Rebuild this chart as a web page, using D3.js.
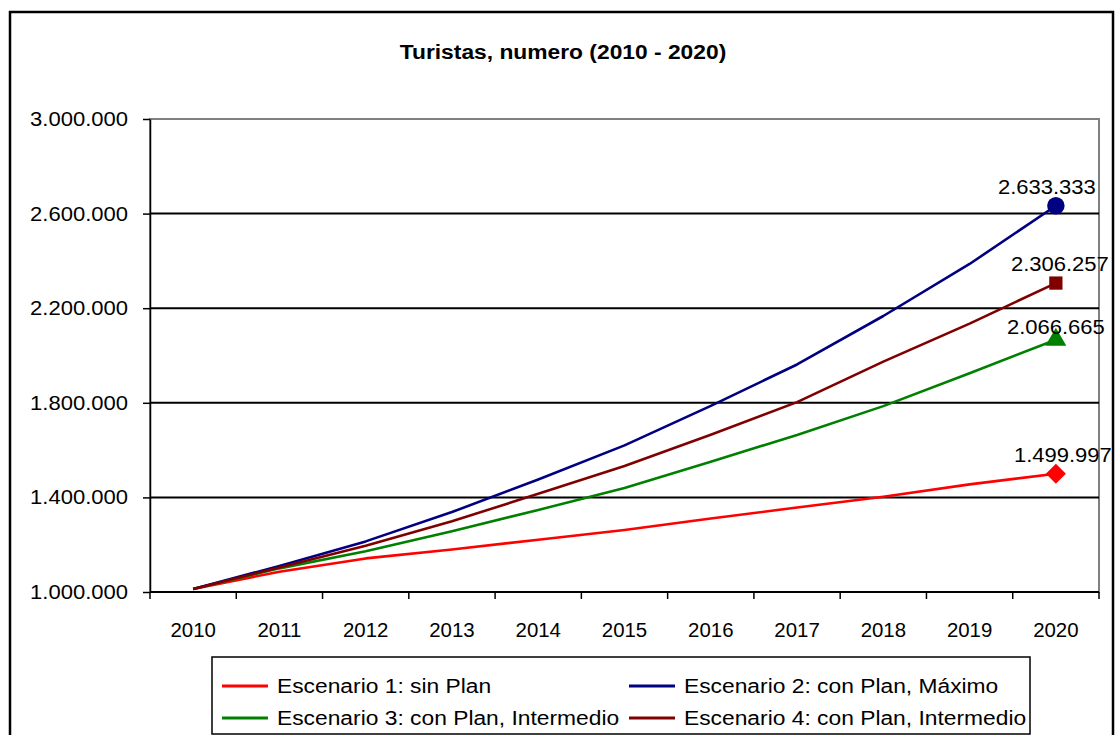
<!DOCTYPE html>
<html>
<head>
<meta charset="utf-8">
<script src="https://cdn.jsdelivr.net/npm/d3@7"></script>
<style>
  body { margin: 0; background: #fff; }
  svg { display: block; }
  text { font-family: "Liberation Sans", Arial, Helvetica, sans-serif; fill: #000; }
</style>
</head>
<body>
<svg id="chart" width="1116" height="735"></svg>
<script>
// ---- data ----
const years = ["2010", "2011", "2012", "2013", "2014", "2015", "2016", "2017", "2018", "2019", "2020"];
const escenario1 = [1013000, 1086000, 1142000, 1180000, 1221000, 1262000, 1311000, 1357000, 1403000, 1455000, 1499997];
const escenario2 = [1013000, 1110000, 1214000, 1338000, 1476000, 1620000, 1787000, 1962000, 2167000, 2387000, 2633333];
const escenario3 = [1013000, 1100000, 1172000, 1257000, 1347000, 1440000, 1551000, 1664000, 1786000, 1925000, 2066665];
const escenario4 = [1013000, 1104000, 1196000, 1299000, 1415000, 1533000, 1665000, 1803000, 1974000, 2135000, 2306257];
const seriesNames = [
  "Escenario 1: sin Plan",
  "Escenario 2: con Plan, Máximo",
  "Escenario 3: con Plan, Intermedio",
  "Escenario 4: con Plan, Intermedio"
];
const yTickValues = [1000000, 1400000, 1800000, 2200000, 2600000, 3000000];
const chartTitle = "Turistas, numero (2010 - 2020)";

// ---- appearance ----
const seriesColors = ["#ff0000", "#000080", "#008000", "#800000"];
const seriesMarkers = ["diamond", "circle", "triangle", "square"];
const labelShiftX = [7, -9, 0, 4];          // horizontal nudge of each end label
const labelShiftY = [-12, -12, -6, -12];    // vertical gap between end marker and its value label
const legendOrder = [0, 1, 2, 3];           // row-major, two columns

const series = seriesNames.map((name, i) => ({
  name,
  values: [escenario1, escenario2, escenario3, escenario4][i],
  color: seriesColors[i],
  marker: seriesMarkers[i],
  labelDx: labelShiftX[i],
  labelDy: labelShiftY[i]
}));

const svg = d3.select("#chart");
const plot = { left: 150, right: 1099, top: 119, bottom: 592 };

// widen the Arial glyphs slightly, as in the original export
function widen(sel, k) {
  sel.each(function () {
    const w = this.getComputedTextLength();
    this.setAttribute("textLength", (w * k).toFixed(1));
    this.setAttribute("lengthAdjust", "spacingAndGlyphs");
  });
}

// thousands separator "."
const locale = d3.formatLocale({ decimal: ",", thousands: ".", grouping: [3], currency: ["", ""] });
const fmt = locale.format(",d");

const x = d3.scaleBand().domain(years).range([plot.left, plot.right]).paddingInner(0).paddingOuter(0);
const cx = d => x(d) + x.bandwidth() / 2;
const y = d3.scaleLinear().domain([1000000, 3000000]).range([plot.bottom, plot.top]);

// outer chart frame
svg.append("rect")
  .attr("x", 10).attr("y", 12).attr("width", 1103).attr("height", 740)
  .attr("fill", "#fff").attr("stroke", "#000").attr("stroke-width", 2.5);

// title
svg.append("text")
  .attr("x", 563).attr("y", 59)
  .attr("text-anchor", "middle")
  .attr("font-size", 20).attr("font-weight", "bold")
  .text(chartTitle)
  .call(widen, 1.14);

// plot area border (top and right are grey)
svg.append("rect")
  .attr("x", plot.left).attr("y", plot.top)
  .attr("width", plot.right - plot.left).attr("height", plot.bottom - plot.top)
  .attr("fill", "none").attr("stroke", "#808080").attr("stroke-width", 2);

// horizontal gridlines
svg.append("g").selectAll("line")
  .data(yTickValues.filter(v => v > 1000000 && v < 3000000))
  .join("line")
  .attr("x1", plot.left).attr("x2", plot.right)
  .attr("y1", d => y(d)).attr("y2", d => y(d))
  .attr("stroke", "#000").attr("stroke-width", 2);

// y axis
const yAxis = svg.append("g")
  .attr("transform", `translate(${plot.left},0)`)
  .call(d3.axisLeft(y).tickValues(yTickValues).tickFormat(fmt).tickSize(7).tickPadding(15).tickSizeOuter(0));
yAxis.select(".domain").attr("stroke", "#000").attr("stroke-width", 1.5);
yAxis.selectAll(".tick line").attr("stroke", "#000").attr("stroke-width", 1.5);
yAxis.selectAll(".tick text")
  .attr("font-size", 20).attr("font-family", null).attr("fill", "#000")
  .call(widen, 1.1);

// x axis: labels centred on categories, tick marks on category boundaries
const xAxis = svg.append("g")
  .attr("transform", `translate(0,${plot.bottom})`)
  .call(d3.axisBottom(x).tickSize(0).tickPadding(31).tickSizeOuter(0));
xAxis.select(".domain").remove();
xAxis.selectAll(".tick text")
  .attr("font-size", 20).attr("font-family", null).attr("fill", "#000")
  .call(widen, 1.02);

const boundaries = years.map(d => x(d)).concat([plot.right]);
svg.append("g").selectAll("line")
  .data(boundaries)
  .join("line")
  .attr("x1", d => d).attr("x2", d => d)
  .attr("y1", plot.bottom).attr("y2", plot.bottom + 7)
  .attr("stroke", "#000").attr("stroke-width", 1.5);
svg.append("line")
  .attr("x1", plot.left).attr("x2", plot.right)
  .attr("y1", plot.bottom).attr("y2", plot.bottom)
  .attr("stroke", "#000").attr("stroke-width", 2);

// series lines (drawn red first, maroon on top)
const line = d3.line().x((d, i) => cx(years[i])).y(d => y(d));
const drawOrder = [0, 2, 1, 3];
svg.append("g").selectAll("path")
  .data(drawOrder.map(i => series[i]))
  .join("path")
  .attr("d", s => line(s.values))
  .attr("fill", "none")
  .attr("stroke", s => s.color)
  .attr("stroke-width", 2.6)
  .attr("stroke-linejoin", "round");

// end markers and value labels for the last year
const symbolFor = {
  circle: d3.symbol(d3.symbolCircle, 240),
  square: d3.symbol(d3.symbolSquare, 176),
  triangle: d3.symbol(d3.symbolTriangle, 190),
  diamond: d3.symbol(d3.symbolSquare, 200)
};
const last = years.length - 1;
const ends = svg.append("g").selectAll("g")
  .data(series)
  .join("g")
  .attr("transform", s => `translate(${cx(years[last])},${y(s.values[last])})`);
ends.append("path")
  .attr("d", s => symbolFor[s.marker]())
  .attr("transform", s => s.marker === "diamond" ? "rotate(45)" : null)
  .attr("fill", s => s.color);
ends.append("text")
  .attr("x", s => s.labelDx)
  .attr("y", s => s.labelDy)
  .attr("text-anchor", "middle")
  .attr("font-size", 20)
  .text(s => fmt(s.values[last]))
  .call(widen, 1.1);

// legend
const legend = svg.append("g");
legend.append("rect")
  .attr("x", 212).attr("y", 657).attr("width", 818).attr("height", 77)
  .attr("fill", "#fff").attr("stroke", "#000").attr("stroke-width", 1.5);
const colX = [222, 629];
const rowY = [686, 718];
const items = legend.selectAll("g.item")
  .data(legendOrder.map(i => series[i]))
  .join("g")
  .attr("class", "item")
  .attr("transform", (s, i) => `translate(${colX[i % 2]},${rowY[Math.floor(i / 2)]})`);
items.append("line")
  .attr("x1", 0).attr("x2", 46).attr("y1", 0).attr("y2", 0)
  .attr("stroke", s => s.color).attr("stroke-width", 3);
items.append("text")
  .attr("x", 55).attr("y", 7)
  .attr("font-size", 20)
  .text(s => s.name)
  .call(widen, 1.14);
</script>
</body>
</html>
